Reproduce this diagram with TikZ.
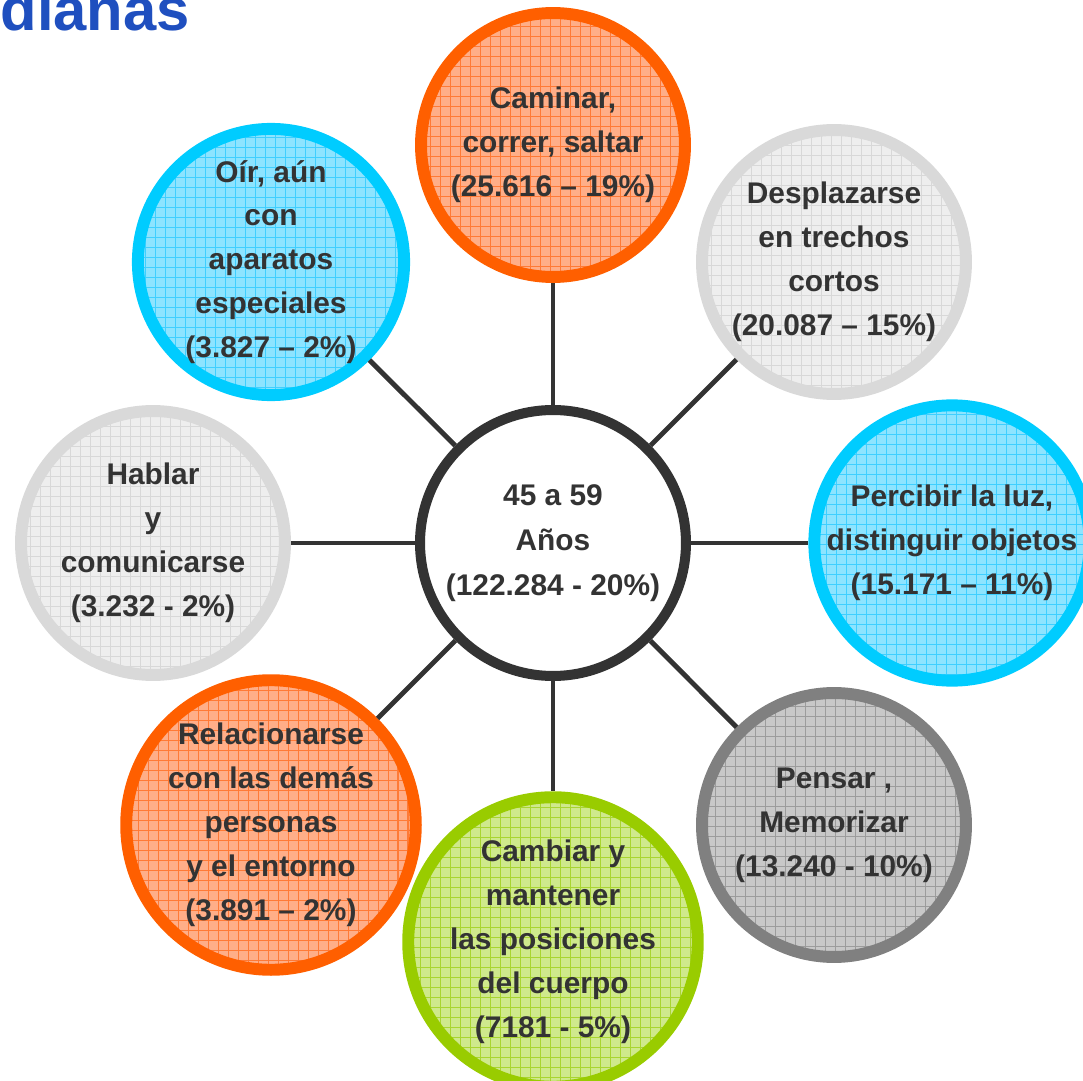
\documentclass[tikz,border=0pt]{standalone}
\usepackage{fontspec}
\setmainfont{Liberation Sans}
\definecolor{txtgray}{HTML}{333333}
\definecolor{titleblue}{HTML}{1F4FBF}
\definecolor{orring}{HTML}{FF5F00}
\definecolor{orfill}{HTML}{FFAE88}
\definecolor{orgrid}{HTML}{FF7A36}
\definecolor{cyring}{HTML}{00CCFF}
\definecolor{cyfill}{HTML}{8DE4FF}
\definecolor{cygrid}{HTML}{3FCFFF}
\definecolor{ltring}{HTML}{D9D9D9}
\definecolor{ltfill}{HTML}{EEEEEE}
\definecolor{ltgrid}{HTML}{D8D8D8}
\definecolor{dkring}{HTML}{808080}
\definecolor{dkfill}{HTML}{C8C8C8}
\definecolor{dkgrid}{HTML}{9C9C9C}
\definecolor{grring}{HTML}{99CC00}
\definecolor{grfill}{HTML}{CFE98C}
\definecolor{grgrid}{HTML}{A9D531}

\begin{document}
\begin{tikzpicture}[x=0.02cm, y=-0.02cm,
    bubble/.style={circle, line width=6.8pt, minimum size=5.28cm, inner sep=0pt,
        align=center, text=txtgray, font=\bfseries\fontsize{17}{25}\selectfont,
        draw=#1ring, fill=#1fill,
        path picture={\draw[#1grid, line width=0.6pt, step=0.2cm]
            (path picture bounding box.south west) grid (path picture bounding box.north east);}},
    hubstyle/.style={circle, draw=txtgray, fill=white, line width=5.7pt, minimum size=5.32cm,
        inner sep=0pt, align=center, text=txtgray, font=\bfseries\fontsize{17}{25.5}\selectfont},
    spoke/.style={draw=txtgray, line width=2.8pt}]
    \useasboundingbox (0,0) rectangle (1083,1081);

    \node[anchor=base east, text=titleblue, font=\bfseries\fontsize{34}{40}\selectfont] (title) at (196,31) {dianas};

    \node[hubstyle] (hub) at (553,543) {45 a 59\\Años\\(122.284 - 20\%)};

    \node[bubble=or] (walk) at (553,145) {Caminar,\\correr, saltar\\(25.616 – 19\%)};
    \node[bubble=lt] (move) at (834,262) {Desplazarse\\en trechos\\cortos\\(20.087 – 15\%)};
    \node[bubble=cy] (see) at (952,543) {Percibir la luz,\\distinguir objetos\\(15.171 – 11\%)};
    \node[bubble=dk] (think) at (834,825) {Pensar ,\\Memorizar\\(13.240 - 10\%)};
    \node[bubble=gr] (body) at (553,942) {Cambiar y\\mantener\\las posiciones\\del cuerpo\\(7181 - 5\%)};
    \node[bubble=or] (relate) at (271,825) {Relacionarse\\con las demás\\personas\\y el entorno\\(3.891 – 2\%)};
    \node[bubble=lt] (talk) at (153,543) {Hablar\\y\\comunicarse\\(3.232 - 2\%)};
    \node[bubble=cy] (hear) at (271,262) {Oír, aún\\con\\aparatos\\especiales\\(3.827 – 2\%)};

    \foreach \n in {walk,move,see,think,body,relate,talk,hear}
        \draw[spoke] (hub) -- (\n);
\end{tikzpicture}
\end{document}
